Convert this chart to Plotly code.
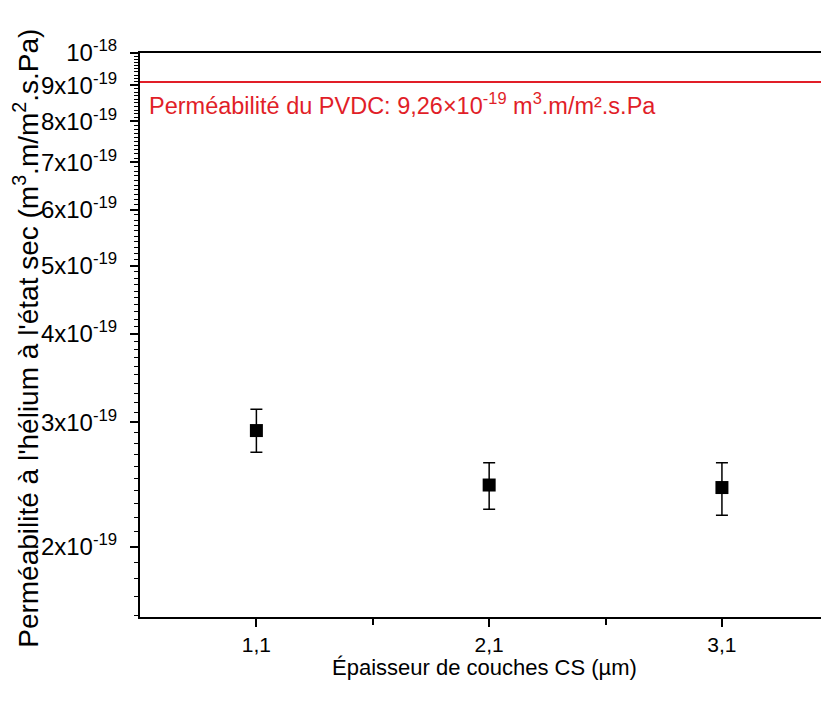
import numpy as np
import plotly.graph_objects as go

# Data
thickness = [1.1, 2.1, 3.1]
permeability = [2.92e-19, 2.445e-19, 2.425e-19]
err_high = [3.13e-19, 2.63e-19, 2.63e-19]
err_low = [2.72e-19, 2.26e-19, 2.215e-19]
pvdc_line = 9.1e-19
pvdc_label = "Perméabilité du PVDC: 9,26×10<sup>-19</sup> m<sup>3</sup>.m/m².s.Pa"

x_ticks = [1.1, 2.1, 3.1]
x_ticklabels = ["1,1", "2,1", "3,1"]
x_minor = [1.6, 2.6]
x_range = [0.6, 3.56]

y_ticks = [2e-19, 3e-19, 4e-19, 5e-19, 6e-19, 7e-19, 8e-19, 9e-19, 1e-18]
y_ticklabels = ["2x10<sup>-19</sup>", "3x10<sup>-19</sup>", "4x10<sup>-19</sup>",
                "5x10<sup>-19</sup>", "6x10<sup>-19</sup>", "7x10<sup>-19</sup>",
                "8x10<sup>-19</sup>", "9x10<sup>-19</sup>", "10<sup>-18</sup>"]
y_min, y_max = 1.59e-19, 1.0e-18

y_minor = [k * 1e-20 for k in range(16, 100) if k % 10 != 0]

FONT = "Liberation Sans, Arial, sans-serif"
RED = "rgb(225,30,40)"

fig = go.Figure()

# PVDC reference line
fig.add_trace(go.Scatter(
    x=x_range, y=[pvdc_line, pvdc_line], mode="lines",
    line=dict(color=RED, width=2), hoverinfo="skip", showlegend=False,
))

fig.add_trace(go.Scatter(
    x=thickness, y=permeability, mode="markers",
    marker=dict(symbol="square", size=13, color="black"),
    error_y=dict(type="data", symmetric=False,
                 array=[h - v for h, v in zip(err_high, permeability)],
                 arrayminus=[v - l for v, l in zip(permeability, err_low)],
                 color="black", thickness=1.5, width=6),
    showlegend=False,
))

# page body has an 8px margin: plot area spans x 140..829, y 53..617 in the window
fig.update_layout(
    width=821, height=696,
    margin=dict(l=132, r=0, t=45, b=87),
    paper_bgcolor="white", plot_bgcolor="white",
    font=dict(family=FONT, color="black", size=19),
    showlegend=False,
)

fig.update_xaxes(
    range=x_range, showgrid=False, zeroline=False,
    tickmode="array", tickvals=x_ticks, ticktext=x_ticklabels,
    ticks="outside", ticklen=8, tickwidth=1.5, tickcolor="black",
    tickfont=dict(size=21, family=FONT),
    showline=True, linecolor="black", linewidth=2, mirror=True,
    minor=dict(tickmode="array", tickvals=x_minor, ticks="outside",
               ticklen=6, tickwidth=1.5, tickcolor="black"),
)

fig.update_yaxes(
    type="log", range=[np.log10(y_min), np.log10(y_max)],
    showgrid=False, zeroline=False,
    tickmode="array", tickvals=y_ticks, ticktext=y_ticklabels,
    ticks="outside", ticklen=8, tickwidth=1.5, tickcolor="black",
    tickfont=dict(size=24, family=FONT), ticklabelstandoff=8,
    showline=True, linecolor="black", linewidth=2, mirror=False,
    minor=dict(tickmode="array", tickvals=y_minor, ticks="outside",
               ticklen=4, tickwidth=1, tickcolor="black"),
)

annotations = [
    dict(text=pvdc_label, xref="paper", yref="paper", x=0.0102, y=0.9096,
         xanchor="left", yanchor="middle", showarrow=False,
         font=dict(size=23.5, color=RED, family=FONT)),
    dict(text="Épaisseur de couches CS (µm)", xref="paper", yref="paper",
         x=0.5007, y=-0.0895, xanchor="center", yanchor="middle", showarrow=False,
         font=dict(size=22, family=FONT)),
    dict(text="Perméabilité à l'hélium à l'état sec (m<sup>3</sup>.m/m<sup>2</sup>.s.Pa)",
         xref="paper", yref="paper", x=-0.1655, y=0.495, textangle=-90,
         xanchor="center", yanchor="middle", showarrow=False,
         font=dict(size=28, family=FONT)),
]
fig.update_layout(annotations=annotations)

fig.write_html("out.html")
